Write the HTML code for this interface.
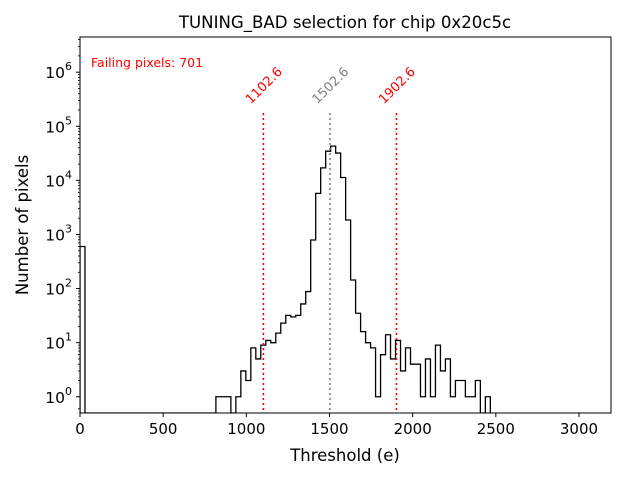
<!DOCTYPE html>
<html><head><meta charset="utf-8"><style>
body{margin:0;background:#fff}
svg{display:block;font-family:"DejaVu Sans","Liberation Sans",sans-serif}
</style></head><body>
<svg id="chart" width="640" height="480" viewBox="0 0 640 480">
<text x="345" y="28" text-anchor="middle" font-size="16.6">TUNING_BAD selection for chip 0x20c5c</text>
<g id="plot"></g>
<text x="91" y="67" font-size="12.5" fill="red">Failing pixels: 701</text>
<text x="345" y="461" text-anchor="middle" font-size="16.5">Threshold (e)</text>
<text transform="translate(28,225) rotate(-90)" text-anchor="middle" font-size="16.5">Number of pixels</text>
</svg>
<script>
const firstBinLo = 0, firstBinHi = 30, firstBinCount = 600;
const binStart = 817;
const binWidth = 30;
const counts = [1,1,1,0,1,3,2,8,5,9,11,10,15,23,32,30,32,52,88,789,5750,17000,34600,43000,32000,11300,1850,144,35,16,10,8,1,6,14,5,11,3,8,4,4,1,5,1,9,3,5,1,2,2,1,1,2,0,1];
const xTicks = [0,500,1000,1500,2000,2500,3000];
const yExps = [0,1,2,3,4,5,6];
const markers = [1102.6,1502.6,1902.6];
const markerColors = ["red","gray","red"];

const L=80,R=611,T=37,B=413;
const xs = v => 80 + v*0.16633;
const yTopExp = 6.65, yBotExp = -0.3;
const ys = v => v<=0 ? B : B - (Math.log10(v)-yBotExp)/(yTopExp-yBotExp)*(B-T);
const NS="http://www.w3.org/2000/svg";
const g=document.getElementById('plot');
function mk(tag,attrs){const e=document.createElementNS(NS,tag);for(const k in attrs)e.setAttribute(k,attrs[k]);g.appendChild(e);return e;}

let d = `M${xs(firstBinLo)},${B} L${xs(firstBinLo)},${ys(firstBinCount)} L${xs(firstBinHi)},${ys(firstBinCount)} L${xs(firstBinHi)},${B} L${xs(binStart)},${B}`;
counts.forEach((c,i)=>{
  const x0=xs(binStart+i*binWidth), x1=xs(binStart+(i+1)*binWidth);
  d += ` L${x0},${ys(c)} L${x1},${ys(c)}`;
});
d += ` L${xs(binStart+counts.length*binWidth)},${B}`;
const cp=mk('clipPath',{id:'clip'});
const r=document.createElementNS(NS,'rect');r.setAttribute('x',L);r.setAttribute('y',T);r.setAttribute('width',R-L);r.setAttribute('height',B-T);cp.appendChild(r);
const hp=mk('path',{d:d,fill:'none',stroke:'#000','stroke-width':1.3,'clip-path':'url(#clip)'});



markers.forEach((m,i)=>{
  const ln=mk('line',{x1:xs(m),x2:xs(m),y1:113,y2:B,stroke:markerColors[i],'stroke-width':1.6,'stroke-dasharray':'2,3'});
  
  
  const t=mk('text',{x:0,y:0,'font-size':13,fill:markerColors[i],'text-anchor':'middle','dominant-baseline':'middle',transform:`translate(${xs(m)+1},86) rotate(-45)`});
  t.textContent=m.toFixed(1);
  
  
});

const fr=mk('rect',{x:L,y:T,width:R-L,height:B-T,fill:'none',stroke:'#000','stroke-width':1});



xTicks.forEach(v=>{
  const x=xs(v);
  const tk=mk('line',{x1:x,x2:x,y1:B,y2:B+4,stroke:'#000'});
  
  
  const t=mk('text',{x:x,y:B+21,'font-size':15,'text-anchor':'middle'});
  t.textContent=v;
  
  
});
yExps.forEach(e=>{
  const y=ys(Math.pow(10,e));
  const tk=mk('line',{x1:L-4,x2:L,y1:y,y2:y,stroke:'#000'});
  
  
  for(let k=2;k<10;k++){
    const yy=ys(k*Math.pow(10,e));
    if(yy>=T){const mt=mk('line',{x1:L-2,x2:L,y1:yy,y2:yy,stroke:'#000','stroke-width':0.8});
    
    }
  }
  const t=mk('text',{x:L-8,y:y+6,'font-size':15.5,'text-anchor':'end'});
  t.innerHTML=`10<tspan dy="-8" font-size="11">${e}</tspan>`;
  
  
});
{const yy=ys(0.6);const mt=mk('line',{x1:L-2,x2:L,y1:yy,y2:yy,stroke:'#000','stroke-width':0.8});

}
</script>
</body></html>
